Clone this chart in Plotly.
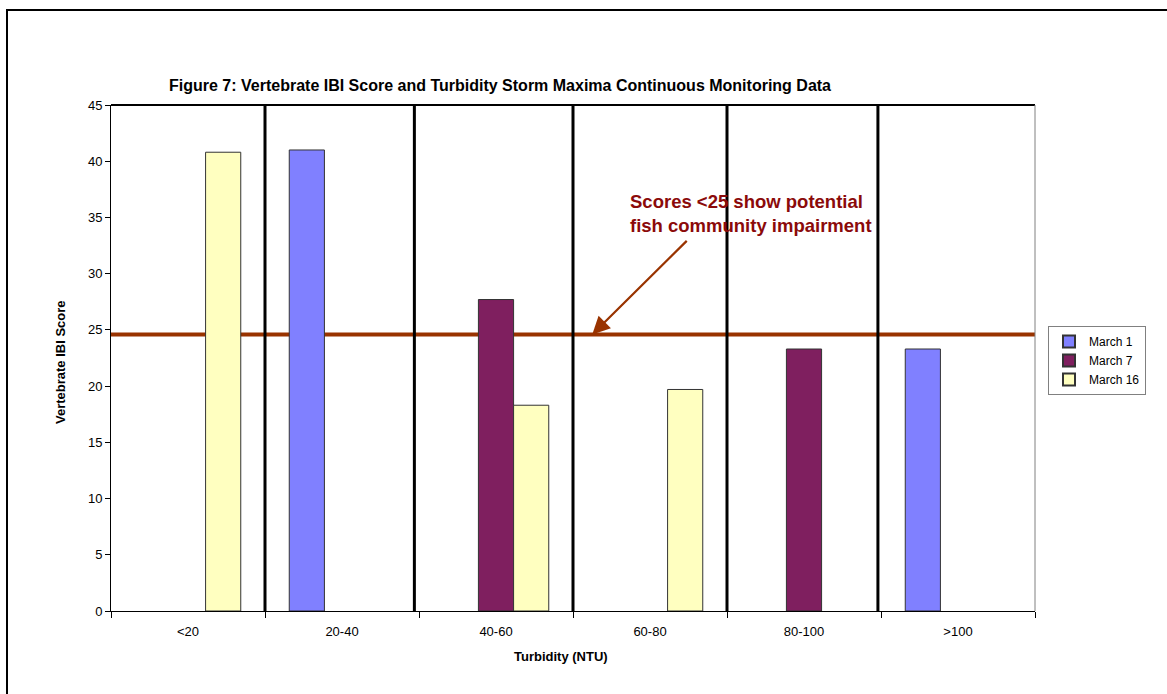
import plotly.graph_objects as go

# Turbidity classes and IBI scores per storm event (None = no sample)
categories = ["<20", "20-40", "40-60", "60-80", "80-100", ">100"]
march_1 = [None, 41.0, None, None, None, 23.3]
march_7 = [None, None, 27.7, None, 23.3, None]
march_16 = [40.8, None, 18.3, 19.7, None, None]
series_names = ["March 1", "March 7", "March 16"]
series_colors = ["#8080FF", "#7F1F5F", "#FFFFC0"]
impairment_threshold = 24.6
y_ticks = [0, 5, 10, 15, 20, 25, 30, 35, 40, 45]
# class separators (category units), as hand-placed on the sheet
separators = [0.5, 1.47, 2.5, 3.5, 4.48]

FONT = "Liberation Sans, Arial, sans-serif"

fig = go.Figure()
for name, vals, col in zip(series_names, [march_1, march_7, march_16], series_colors):
    fig.add_trace(go.Bar(
        x=categories, y=vals, name=name,
        marker=dict(color=col, line=dict(color="#333333", width=1)),
    ))

shapes = []
# threshold line sits behind the bars
shapes.append(dict(type="line", xref="paper", yref="y", x0=0, x1=1,
                   y0=impairment_threshold, y1=impairment_threshold,
                   line=dict(color="#993300", width=4), layer="below"))
# heavy separators between turbidity classes
for s in separators:
    shapes.append(dict(type="line", xref="x", yref="y", x0=s, x1=s,
                       y0=-1.0, y1=45.2, line=dict(color="black", width=3),
                       layer="above"))
# plot frame: black top edge, grey right edge
shapes.append(dict(type="line", xref="paper", yref="paper", x0=0, x1=1, y0=1, y1=1,
                   line=dict(color="black", width=2)))
shapes.append(dict(type="line", xref="paper", yref="paper", x0=1, x1=1, y0=0, y1=1,
                   line=dict(color="#808080", width=1)))
# outer chart border
W, H = 1167, 694
L, R, T, B = 111, 132, 105, 83
pw, ph = W - L - R, H - T - B
def px_x(p):
    return (p - L) / pw
def px_y(p):
    return (H - B - p) / ph
shapes.append(dict(type="rect", xref="paper", yref="paper",
                   x0=px_x(7), x1=px_x(1200), y0=px_y(730), y1=px_y(10),
                   line=dict(color="black", width=2), layer="below"))

annotations = [
    dict(text="<b>Figure 7: Vertebrate IBI Score and Turbidity Storm Maxima Continuous Monitoring Data</b>",
         xref="paper", yref="paper", x=px_x(500), y=px_y(85), showarrow=False,
         font=dict(family=FONT, size=16, color="black"), xanchor="center", yanchor="middle"),
    dict(text="<b>Vertebrate IBI Score</b>", textangle=-90,
         xref="paper", yref="paper", x=px_x(60), y=px_y(362), showarrow=False,
         font=dict(family=FONT, size=13, color="black"), xanchor="center", yanchor="middle"),
    dict(text="<b>Turbidity (NTU)</b>",
         xref="paper", yref="paper", x=px_x(561), y=px_y(656), showarrow=False,
         font=dict(family=FONT, size=13, color="black"), xanchor="center", yanchor="middle"),
    dict(text="<b>Scores <25 show potential<br>fish community impairment</b>",
         xref="paper", yref="paper", x=px_x(628), y=px_y(189), showarrow=False,
         align="left", xanchor="left", yanchor="top",
         font=dict(family=FONT, size=18.5, color="#8B0A0A")),
    dict(text="", xref="x", yref="y", x=2.625, y=impairment_threshold,
         axref="pixel", ayref="pixel", ax=96, ay=-95,
         showarrow=True, arrowhead=2, arrowsize=1.6, arrowwidth=2.2,
         arrowcolor="#993300"),
]

fig.update_layout(
    width=W, height=H,
    margin=dict(l=L, r=R, t=T, b=B, pad=0),
    paper_bgcolor="white", plot_bgcolor="white",
    barmode="group", bargap=0.315, bargroupgap=0,
    font=dict(family=FONT, size=13, color="black"),
    showlegend=True,
    legend=dict(x=px_x(1048), y=px_y(326), xanchor="left", yanchor="top",
                bordercolor="#808080", borderwidth=1, bgcolor="white",
                font=dict(family=FONT, size=12, color="black"),
                tracegroupgap=0, itemsizing="constant", itemwidth=30),
    shapes=shapes, annotations=annotations,
)
fig.update_xaxes(type="category", categoryorder="array", categoryarray=categories,
                 showline=True, linecolor="black", linewidth=1,
                 ticks="outside", ticklen=6, tickcolor="black", tickson="boundaries",
                 ticklabelstandoff=8,
                 showgrid=False, zeroline=False, tickfont=dict(size=13))
fig.update_yaxes(range=[0, 45], tickvals=y_ticks, showline=True, linecolor="black",
                 linewidth=1, ticks="outside", ticklen=5, tickcolor="black",
                 showgrid=False, zeroline=False, tickfont=dict(size=13))

fig.write_html("out.html")
